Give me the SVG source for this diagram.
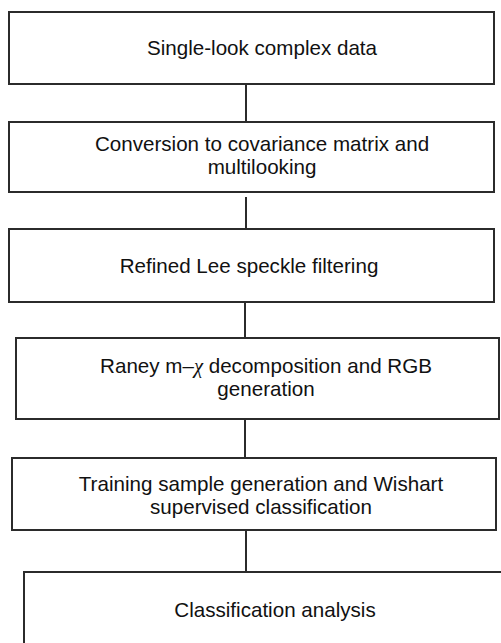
<svg xmlns="http://www.w3.org/2000/svg" width="501" height="643" viewBox="0 0 501 643">
<style>
.box{fill:#fff;stroke:#2b2b2b;stroke-width:2}
.lbl{font-family:"Liberation Sans",Arial,sans-serif;font-size:20.6px;fill:#111;text-anchor:middle}
.con{stroke:#2b2b2b;stroke-width:2;fill:none}
</style>
<rect width="501" height="643" fill="#fff"/>
<g id="connectors">
<line class="con" x1="246" y1="84" x2="246" y2="122"/>
<line class="con" x1="246" y1="197" x2="246" y2="229"/>
<line class="con" x1="245" y1="302" x2="245" y2="338"/>
<line class="con" x1="245" y1="419" x2="245" y2="458"/>
<line class="con" x1="246" y1="530" x2="246" y2="572"/>
</g>
<g id="n1"><rect class="box" x="9" y="12" width="485" height="72"/><text class="lbl" x="262" y="55">Single-look complex data</text></g>
<g id="n2"><rect class="box" x="9" y="122" width="485" height="70"/><text class="lbl" x="262" y="151">Conversion to covariance matrix and</text><text class="lbl" x="262" y="174">multilooking</text></g>
<g id="n3"><rect class="box" x="9" y="229" width="485" height="73"/><text class="lbl" x="249" y="273">Refined Lee speckle filtering</text></g>
<g id="n4"><rect class="box" x="16" y="338" width="483" height="81"/><text class="lbl" x="266" y="373">Raney m–<tspan font-family="'Liberation Serif',serif" font-style="italic">χ</tspan> decomposition and RGB</text><text class="lbl" x="266" y="396">generation</text></g>
<g id="n5"><rect class="box" x="12" y="458" width="484" height="72"/><text class="lbl" x="261" y="491">Training sample generation and Wishart</text><text class="lbl" x="261" y="514">supervised classification</text></g>
<g id="n6"><rect class="box" x="24" y="572" width="490" height="90"/><text class="lbl" x="275" y="617">Classification analysis</text></g>
</svg>
